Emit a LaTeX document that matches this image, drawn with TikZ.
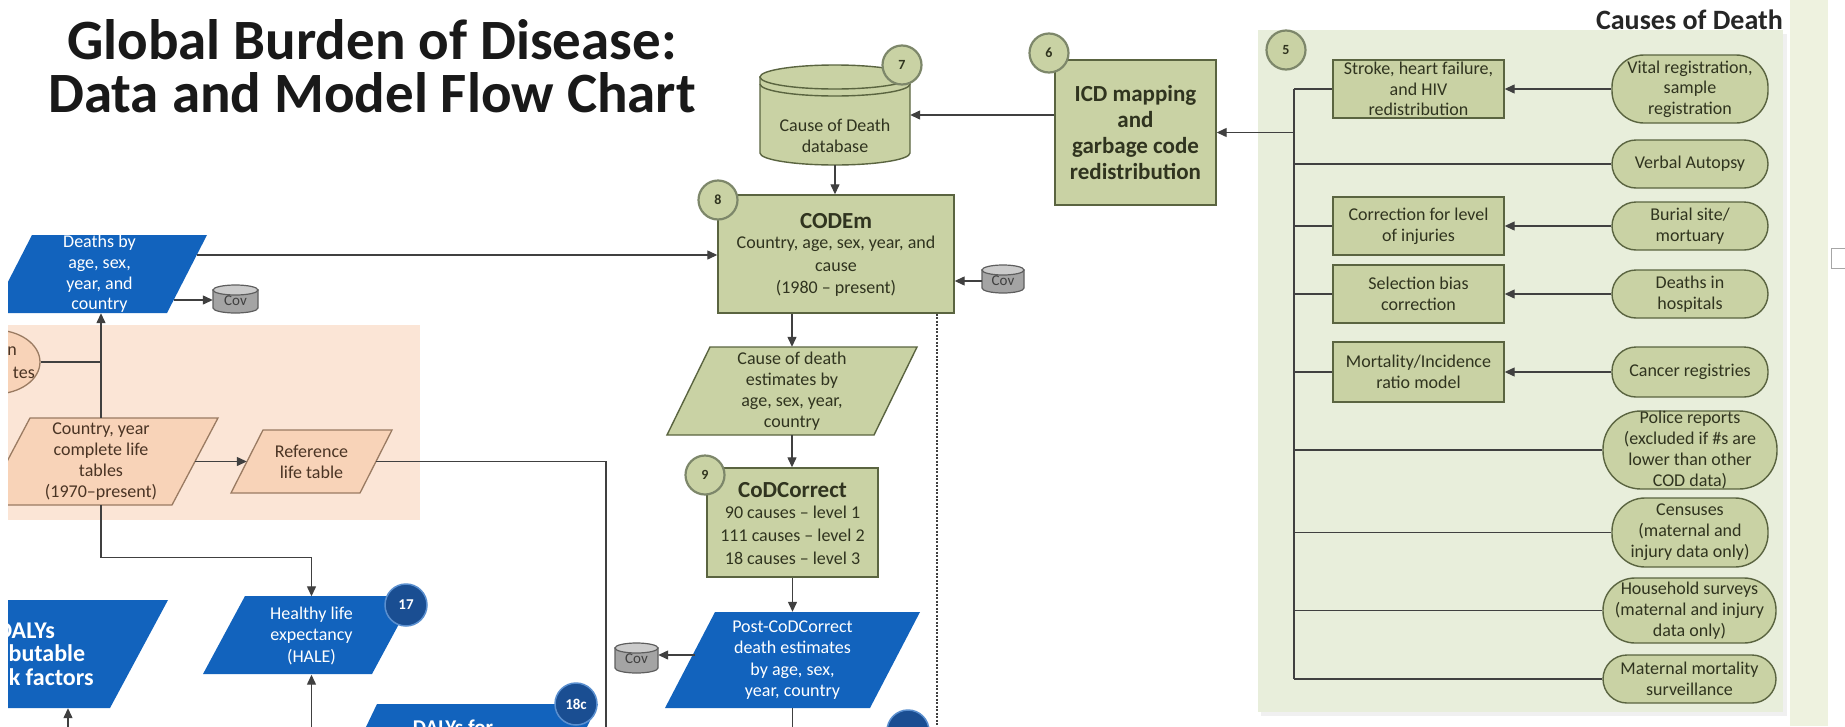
\documentclass[tikz,border=0pt]{standalone}
\usepackage{fontspec}
\setmainfont{Carlito}
\usetikzlibrary{arrows.meta,calc,shapes.geometric}
\definecolor{gfill}{HTML}{C9D2A4}
\definecolor{gbord}{HTML}{5A6440}
\definecolor{panelg}{HTML}{E8EEDB}
\definecolor{stripg}{HTML}{EEF2DF}
\definecolor{bfill}{HTML}{1263BD}
\definecolor{bbadge}{HTML}{1A4E92}
\definecolor{bbadgeB}{HTML}{5A8FCF}
\definecolor{ofill}{HTML}{F8D3B8}
\definecolor{obord}{HTML}{9A7B62}
\definecolor{opanel}{HTML}{FBE5D6}
\definecolor{otext}{HTML}{4A3424}
\definecolor{covfill}{HTML}{A4A4A4}
\definecolor{covtop}{HTML}{CBCBCB}
\definecolor{covbord}{HTML}{5E5E5E}
\definecolor{lineC}{HTML}{404040}
\definecolor{textC}{HTML}{30341F}
\definecolor{gbadgeB}{HTML}{7D876A}
\newcommand\pgram[6]{\path[#1] (#2,#4) -- (#3,#4) -- ({#3-#6},#5) -- ({#2-#6},#5) -- cycle;}
\newcommand\cylpath[6]{\path[#1] ({#2-#5},{#3+#6}) -- ({#2-#5},{#4-#6}) arc[start angle=180,end angle=360,x radius=#5pt,y radius=#6pt] -- ({#2+#5},{#3+#6}) -- cycle;}
\newcommand\cyltop[6]{\path[#1] (#2,{#3+#6}) ellipse[x radius=#5pt,y radius=#6pt];}
\tikzset{
 ln/.style={draw=lineC,line width=1.3pt},
 arr/.style={ln,-{Triangle[length=10pt,width=9pt]}},
 dline/.style={draw=lineC,line width=1.1pt,dash pattern=on 2pt off 1.5pt},
 gbox/.style={rectangle,draw=gbord,fill=gfill,line width=1.4pt,inner sep=0pt,align=center,text=textC,font=\fontsize{18}{21}\selectfont},
 stad/.style={gbox,rounded corners=24pt},
 txt/.style={inner sep=0pt,align=center,text=textC,font=\fontsize{18}{21}\selectfont},
 wtxt/.style={inner sep=0pt,align=center,text=white,font=\fontsize{18}{21}\selectfont},
 otxt/.style={inner sep=0pt,align=center,text=otext,font=\fontsize{18}{21}\selectfont},
 gbadge/.style={circle,draw=gbadgeB,fill=gfill,line width=2.2pt,minimum size=39pt,inner sep=0pt,text=textC,font=\fontsize{14}{14}\selectfont\bfseries},
 bbadge/.style={circle,draw=bbadgeB,fill=bbadge,line width=1.5pt,minimum size=42pt,inner sep=0pt,text=white,font=\fontsize{15}{15}\selectfont\bfseries},
 bpg/.style={fill=bfill},
 opg/.style={fill=ofill,draw=obord,line width=1.3pt},
 gpg/.style={fill=gfill,draw=gbord,line width=1.4pt},
 cyl/.style={fill=covfill,draw=covbord,line width=1.2pt},
 cylt/.style={fill=covtop,draw=covbord,line width=1.2pt},
 covtxt/.style={inner sep=0pt,text=black!75,font=\fontsize{15}{15}\selectfont},
}
\begin{document}
\begin{tikzpicture}[x=1pt,y=-1pt]
\path[use as bounding box] (0,0) rectangle (1845,726);
\fill[white] (0,0) rectangle (1845,726);
\begin{scope}
\clip (8,0) rectangle (1845,726);
% backgrounds
\fill[opanel] (0,325) rectangle (420,520);
\fill[stripg] (1790,0) rectangle (1828,726);
\fill[black!6] (1261,34) rectangle (1787,716);
\fill[panelg] (1258,30) rectangle (1783,712);
\draw[black!35,fill=white,line width=1pt] (1831,248) rectangle (1850,268);
% title
\node[anchor=base,font=\fontsize{57}{60}\selectfont\bfseries,text=black!90,inner sep=0pt] (title1) at (372,59) {Global Burden of Disease:};
\node[anchor=base,font=\fontsize{57}{60}\selectfont\bfseries,text=black!90,inner sep=0pt] (title2) at (372,112) {Data and Model Flow Chart};
% left column
\pgram{bpg}{32}{207}{235}{313}{40}
\node[wtxt,minimum width=175pt,minimum height=78pt,font=\fontsize{18}{20.7}\selectfont] (deaths) at (99.5,274) {Deaths by\\age, sex,\\year, and\\country};
\cylpath{cyl}{235.5}{285}{313}{22.5}{5}
\cyltop{cylt}{235.5}{285}{313}{22.5}{5}
\node[covtxt,minimum width=45pt,minimum height=22pt] (cov1) at (235.5,301) {Cov};
\node[ellipse,draw=obord,fill=ofill,line width=1.3pt,minimum width=90pt,minimum height=64pt,inner sep=0pt] (popn) at (-5,362) {};
\node[otxt,anchor=east] (popn1) at (17,351) {n};
\node[otxt,anchor=east] (popn2) at (35,373) {tes};
\pgram{opg}{30}{218}{418}{505}{46}
\node[otxt,minimum width=188pt,minimum height=87pt] (country) at (101,461.5) {Country, year\\complete life\\tables\\(1970–present)};
\pgram{opg}{263}{392}{430}{493}{32}
\node[otxt,minimum width=129pt,minimum height=63pt] (ref) at (311.5,461.5) {Reference\\life table};
\pgram{bpg}{245}{414}{596}{674}{42}
\node[wtxt,minimum width=169pt,minimum height=78pt,font=\fontsize{18}{21.5}\selectfont] (hale) at (311.5,635.5) {Healthy life\\expectancy\\(HALE)};
\node[bbadge] (b17) at (406,605) {17};
\pgram{bpg}{-60}{168}{600}{708}{58}
\node[inner sep=0pt,align=center,text=white,font=\fontsize{24}{23.5}\selectfont\bfseries,minimum height=108pt] (dalysL) at (26,654) {DALYs\\attributable\\to risk factors};
\pgram{bpg}{377}{598}{704}{800}{46}
\node[anchor=base,text=white,font=\fontsize{21}{21}\selectfont\bfseries,inner sep=0pt] (dalys18) at (453,734) {DALYs for};
\node[bbadge] (b18c) at (576,704) {18c};
% middle column
\cylpath{gpg}{835}{65}{165}{75}{12}
\cyltop{gpg}{835}{65}{165}{75}{12}
\draw[gbord,line width=1.4pt] (760,84) arc[start angle=180,end angle=360,x radius=75pt,y radius=12pt];
\node[inner sep=0pt,minimum width=150pt,minimum height=100pt] (cod) at (835,115) {};
\node[txt] (codT) at (835,135.5) {Cause of Death\\database};
\node[gbadge] (b7) at (902,65) {7};
\node[gbox,minimum width=161pt,minimum height=145pt,font=\fontsize{23}{25.7}\selectfont\bfseries] (icd) at (1135.5,132.5) {ICD mapping\\and\\garbage code\\redistribution};
\node[gbadge] (b6) at (1049,53) {6};
\node[gbox,minimum width=236pt,minimum height=118pt] (codem) at (836,254) {};
\node[txt,font=\fontsize{23}{25}\selectfont\bfseries] (codemH) at (836,221) {CODEm};
\node[txt,font=\fontsize{18}{22.5}\selectfont] (codemT) at (836,266.5) {Country, age, sex, year, and\\cause\\(1980 – present)};
\node[gbadge] (b8) at (718,200) {8};
\cylpath{cyl}{1003}{265}{293}{21}{5}
\cyltop{cylt}{1003}{265}{293}{21}{5}
\node[covtxt,minimum width=42pt,minimum height=22pt] (cov2) at (1003,281) {Cov};
\pgram{gpg}{710}{917}{347}{435}{43}
\node[txt,minimum width=207pt,minimum height=88pt] (cde) at (792,391) {Cause of death\\estimates by\\age, sex, year,\\country};
\node[gbox,minimum width=171pt,minimum height=109pt] (codc) at (792.5,522.5) {};
\node[txt,font=\fontsize{23}{25}\selectfont\bfseries] (codcH) at (792.5,490) {CoDCorrect};
\node[txt,font=\fontsize{18}{23}\selectfont] (codcT) at (792.5,535) {90 causes – level 1\\111 causes – level 2\\18 causes – level 3};
\node[gbadge] (b9) at (705,475) {9};
\pgram{bpg}{715}{920}{612}{708}{50}
\node[wtxt,minimum width=205pt,minimum height=96pt,font=\fontsize{18}{21.3}\selectfont] (post) at (792.5,660) {Post-CoDCorrect\\death estimates\\by age, sex,\\year, country};
\cylpath{cyl}{636.5}{643}{673}{21.5}{5}
\cyltop{cylt}{636.5}{643}{673}{21.5}{5}
\node[covtxt,minimum width=43pt,minimum height=24pt] (cov3) at (636.5,659) {Cov};
\node[bbadge] (bX) at (908,731) {};
% causes of death panel
\node[anchor=east,font=\fontsize{28}{28}\selectfont\bfseries,text=black!85,inner sep=0pt] (codTitle) at (1783,20) {Causes of Death};
\node[gbadge] (b5) at (1286,50) {5};
\node[gbox,minimum width=171pt,minimum height=58pt,font=\fontsize{18}{20.5}\selectfont] (stroke) at (1418.5,89) {Stroke, heart failure,\\and HIV\\redistribution};
\node[gbox,minimum width=171pt,minimum height=58pt] (corr) at (1418.5,226) {Correction for level\\of injuries};
\node[gbox,minimum width=171pt,minimum height=58pt] (sel) at (1418.5,294) {Selection bias\\correction};
\node[gbox,minimum width=171pt,minimum height=60pt] (mort) at (1418.5,372) {Mortality/Incidence\\ratio model};
\node[stad,rounded corners=32pt,minimum width=156pt,minimum height=68pt,font=\fontsize{18}{20.5}\selectfont] (vital) at (1690,89) {Vital registration,\\sample\\registration};
\node[stad,minimum width=156pt,minimum height=48pt] (verbal) at (1690,164) {Verbal Autopsy};
\node[stad,minimum width=156pt,minimum height=48pt] (burial) at (1690,226) {Burial site/\\mortuary};
\node[stad,minimum width=156pt,minimum height=48pt] (hosp) at (1690,294) {Deaths in\\hospitals};
\node[stad,minimum width=156pt,minimum height=50pt] (cancer) at (1690,372) {Cancer registries};
\node[stad,rounded corners=38pt,minimum width=174pt,minimum height=78pt,font=\fontsize{18}{21}\selectfont] (police) at (1690,450) {Police reports\\(excluded if \#s are\\lower than other\\COD data)};
\node[stad,rounded corners=33pt,minimum width=156pt,minimum height=69pt] (census) at (1690,532.5) {Censuses\\(maternal and\\injury data only)};
\node[stad,rounded corners=32pt,minimum width=173pt,minimum height=65pt] (house) at (1689.5,610.5) {Household surveys\\(maternal and injury\\data only)};
\node[stad,minimum width=173pt,minimum height=48pt] (maternal) at (1689.5,679) {Maternal mortality\\surveillance};
% connectors left/middle
\coordinate (dR1) at (197,255);
\draw[arr] (dR1) -- (dR1 -| codem.west);
\coordinate (dR2) at (174,300);
\draw[arr] (dR2) -- (dR2 -| cov1.west);
\draw[arr] (country.north) -- (country.north |- deaths.south);
\draw[ln] (popn.east) -- (popn.east -| country.north);
\draw[arr] (country.east) -- (ref.west);
\coordinate (refDown) at (606,740);
\draw[ln] (ref.east) -| (refDown);
\draw[arr] (country.south) -- ++(0,52) -| (hale.north);
\coordinate (haleIn) at (311.5,740);
\draw[arr] (haleIn) -- (hale.south);
\coordinate (dalysIn) at (68,740);
\draw[arr] (dalysIn) -- (dalysIn |- dalysL.south);
\draw[arr] (icd.west |- cod.east) -- (cod.east);
\draw[arr] (cod.south) -- (cod.south |- codem.north);
\draw[arr] (cov2.west) -- (cov2.west -| codem.east);
\draw[arr] (codem.south -| cde.north) -- (cde.north);
\coordinate (dashEnd) at (937,740);
\draw[dline] (codem.south -| dashEnd) -- (dashEnd);
\draw[arr] (cde.south) -- (cde.south |- codc.north);
\draw[arr] (codc.south -| post.north) -- (post.north);
\coordinate (pL) at (695,655);
\draw[arr] (pL) -- (pL -| cov3.east);
\coordinate (postOut) at (792.5,740);
\draw[arr] (post.south) -- (postOut);
% connectors panel
\coordinate (brT) at (1294,89);
\coordinate (brB) at (1294,679);
\draw[ln] (brT) -- (brB);
\foreach \n in {stroke,verbal,corr,sel,mort,police,census,house,maternal} \draw[ln] (brT |- \n.west) -- (\n.west);
\draw[arr] (brT |- icd.east) -- (icd.east);
\foreach \a/\b in {vital/stroke,burial/corr,hosp/sel,cancer/mort} \draw[arr] (\a.west) -- (\a.west -| \b.east);
\end{scope}
\end{tikzpicture}
\end{document}
